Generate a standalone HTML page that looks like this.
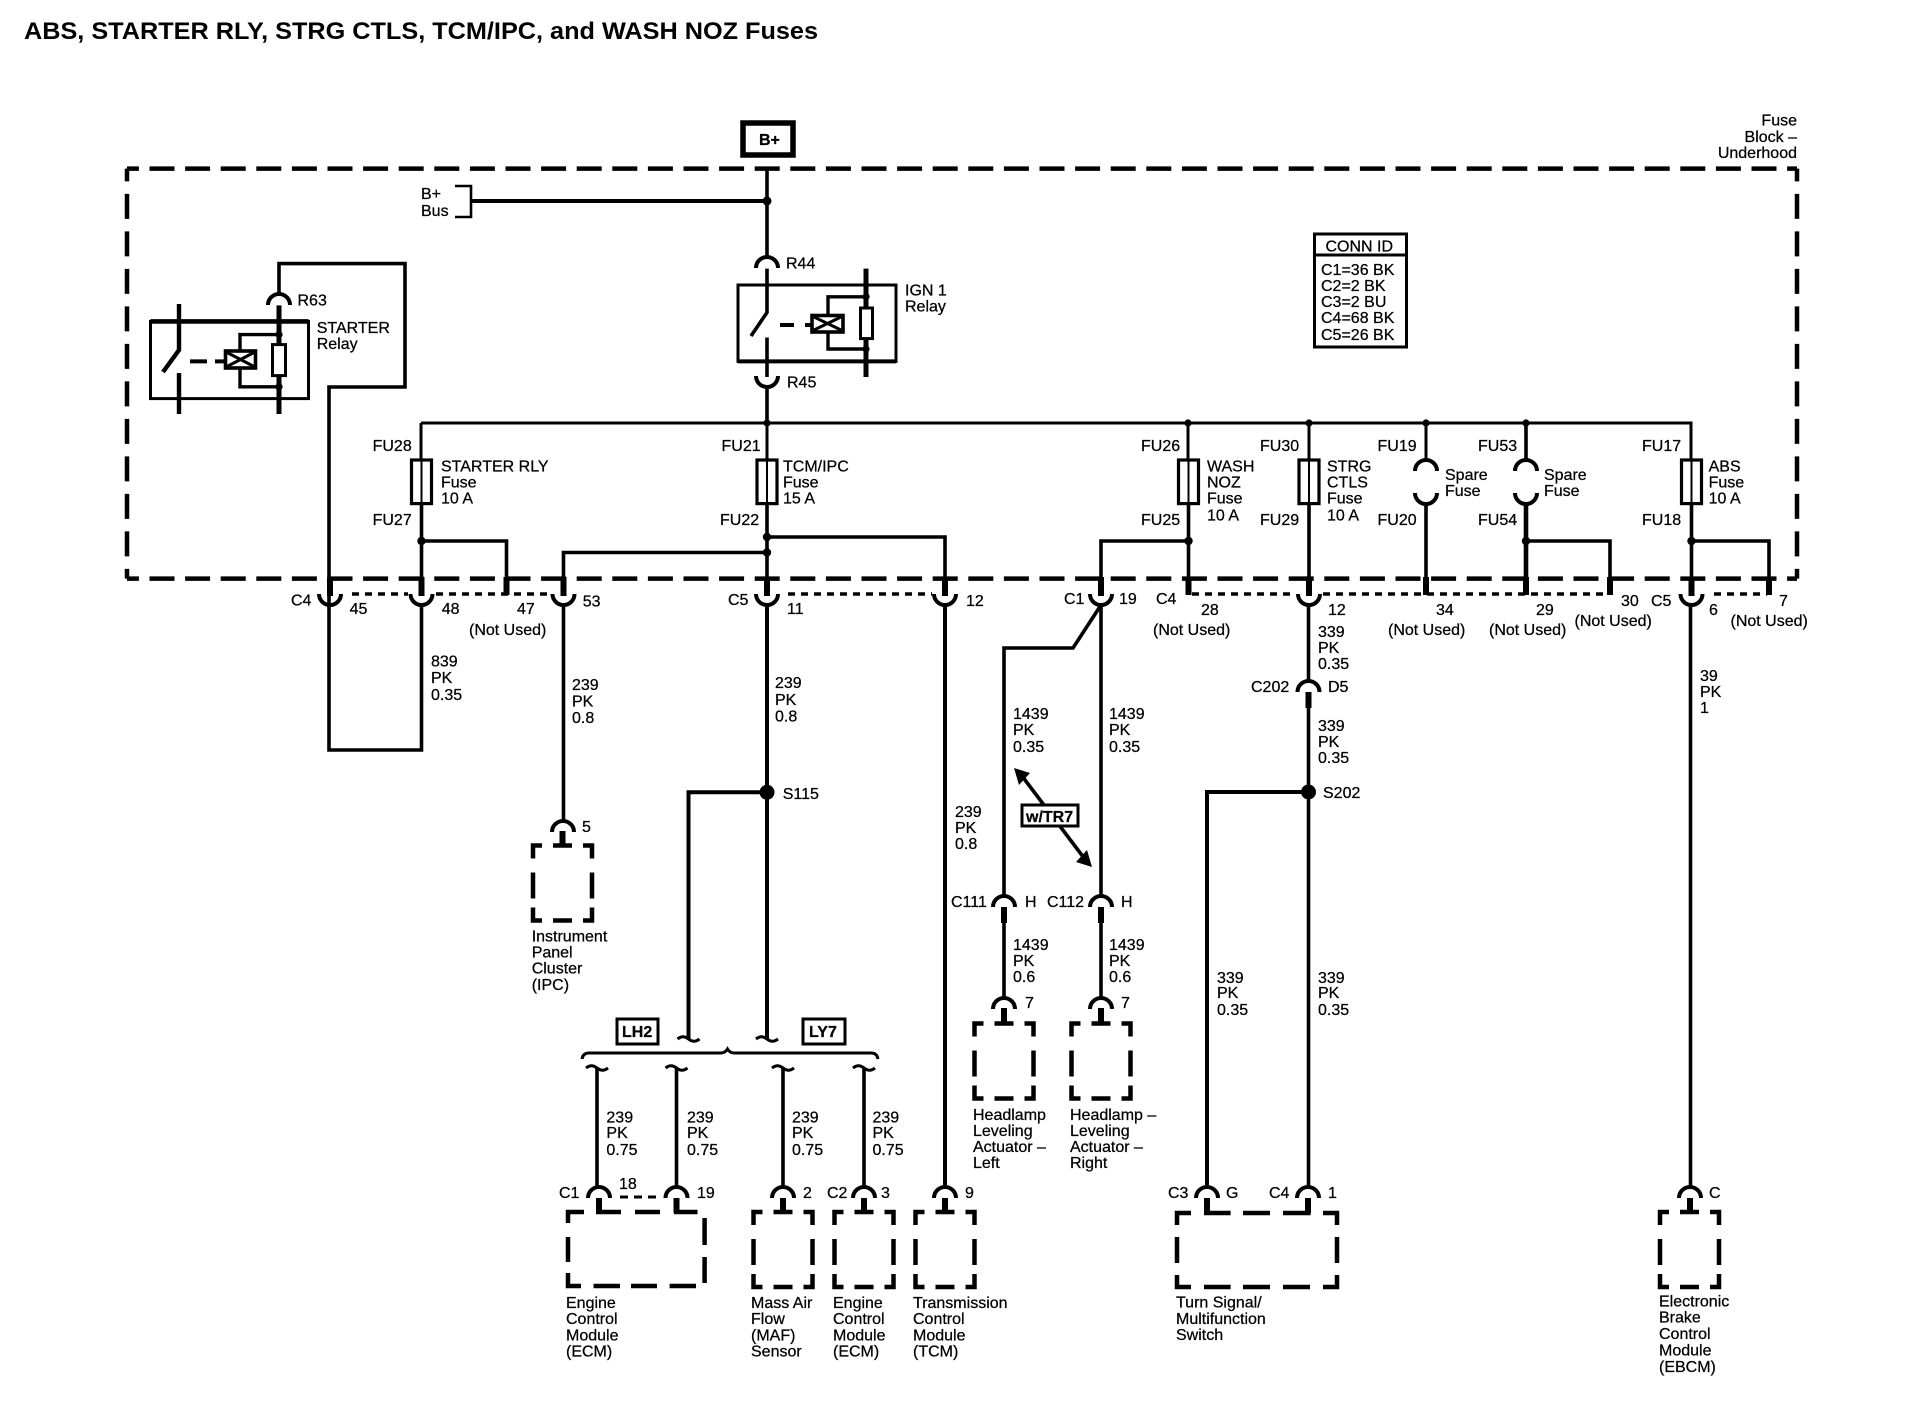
<!DOCTYPE html>
<html><head><meta charset="utf-8"><style>
html,body{margin:0;padding:0;background:#fff}
svg{display:block}
text{font-family:"Liberation Sans",sans-serif;font-size:16px;fill:#000;stroke:#000;stroke-width:.25}
.t{font-weight:bold;font-size:24px;stroke:none}
.b{font-weight:bold}
.w{fill:none;stroke:#000;stroke-width:3.6}
.n{fill:none;stroke:#000;stroke-width:3}
.s{fill:none;stroke:#000;stroke-width:6}
.d{fill:none;stroke:#000;stroke-width:4.5}
.r{fill:none;stroke:#000;stroke-width:3.5;stroke-dasharray:7 6}
</style></head><body>
<svg xmlns="http://www.w3.org/2000/svg" width="1918" height="1408" viewBox="0 0 1918 1408">
<defs>
<path id="cap" d="M-11 11A11 11 0 0 1 11 11" fill="none" stroke="#000" stroke-width="4"/>
<path id="cup" d="M-11 0A11 11 0 0 0 11 0" fill="none" stroke="#000" stroke-width="4"/>
<path id="box" d="M9 0H0V13M20 0H39M50 0H59V13M0 27V53M59 27V53M0 62V75H9M20 75H39M59 62V75H50" fill="none" stroke="#000" stroke-width="4.5"/>
<path id="sq" d="M-11 0c4-3 7-3 11 0c4 3 7 3 11 0" fill="none" stroke="#000" stroke-width="3"/>
<g id="fuse"><rect x="-10" y="0" width="20" height="43.6" fill="#fff" stroke="#000" stroke-width="3.2"/><line x1="0" y1="0" x2="0" y2="43.6" stroke="#000" stroke-width="2"/></g>
</defs>

<text class="t" x="24" y="39" textLength="794" lengthAdjust="spacingAndGlyphs">ABS, STARTER RLY, STRG CTLS, TCM/IPC, and WASH NOZ Fuses</text>

<!-- B+ -->
<rect x="743" y="123" width="50" height="32" fill="none" stroke="#000" stroke-width="5.5"/>
<text class="b" x="759" y="145">B+</text>

<!-- Fuse block outline -->
<path class="d" stroke-dasharray="25 10.6" stroke-dashoffset="13.1" d="M127 168.6H1797"/>
<path class="d" stroke-dasharray="25 10.6" stroke-dashoffset="13.1" d="M127 578.6H1797"/>
<path class="d" stroke-dasharray="25 12.5" stroke-dashoffset="12.2" d="M127 168.6V578.6"/>
<path class="d" stroke-dasharray="25 12.5" stroke-dashoffset="12.2" d="M1797 168.6V578.6"/>
<text x="1797" y="125.7" text-anchor="end">Fuse</text>
<text x="1797" y="141.8" text-anchor="end">Block –</text>
<text x="1797" y="158" text-anchor="end">Underhood</text>

<!-- Trunk and B+ Bus -->
<path class="w" d="M767 168V256"/>
<path class="w" style="stroke-width:4" d="M471 201H767"/>
<path fill="none" stroke="#000" stroke-width="2.6" d="M455 186H471V217H455"/>
<circle cx="767" cy="201" r="4.5"/>
<text x="421" y="199">B+</text><text x="421" y="216">Bus</text>

<!-- IGN 1 relay -->
<use href="#cap" x="767" y="257"/>
<text x="786" y="268.6">R44</text>
<rect x="738" y="285" width="158" height="76.4" class="n"/>
<path d="M738 361.4H896" class="w" style="stroke-width:4"/>
<path class="w" d="M767 268.6V312.5L751 336M767 337.5V377"/>
<path class="w" style="stroke-width:5" d="M866 268.6V308M866 338.6V377"/>
<rect x="860.5" y="308" width="12" height="30.6" class="n" fill="#fff"/>
<path class="n" style="stroke-width:3.4" d="M866 296.8H828V315M828 332V349H866"/>
<circle cx="866" cy="296.8" r="3.6"/><circle cx="866" cy="349" r="3.6"/>
<path class="n" style="stroke-width:4" d="M780 325H794M805 325H811"/>
<rect x="812" y="315.5" width="31" height="16.5" fill="#fff" stroke="#000" stroke-width="3.6"/>
<path d="M814 317L841 330M841 317L814 330" stroke="#000" stroke-width="3"/>
<text x="905" y="295.7">IGN 1</text><text x="905" y="311.4">Relay</text>
<use href="#cup" x="767" y="376"/>
<text x="787" y="387.5">R45</text>
<path class="w" d="M767 387V423"/>

<!-- STARTER relay -->
<path class="w" d="M279 293V263.6H405V387H329V750H421.5V605"/>
<use href="#cap" x="279" y="294"/>
<text x="297.5" y="305.7">R63</text>
<rect x="150.5" y="321.4" width="158" height="77.2" class="n"/>
<path d="M150.5 321.4H308.5" stroke="#000" stroke-width="4.6"/>
<path class="w" style="stroke-width:4.4" d="M179 304V350L163 372M179 373V414"/>
<path class="w" style="stroke-width:5" d="M279 305.4V344.6M279 375.7V414"/>
<rect x="272.5" y="344.6" width="13" height="31" class="n" fill="#fff"/>
<path class="n" style="stroke-width:3.4" d="M279 334.6H240V351M240 368V386.8H279"/>
<circle cx="279" cy="334.6" r="3.6"/><circle cx="279" cy="386.8" r="3.6"/>
<path class="n" style="stroke-width:4" d="M190 361.4H207M215 361.4H225"/>
<rect x="225.5" y="351" width="30" height="17" fill="#fff" stroke="#000" stroke-width="3.6"/>
<path d="M227 352.5L254 366.5M254 352.5L227 366.5" stroke="#000" stroke-width="3"/>
<text x="316.7" y="333">STARTER</text><text x="316.7" y="349">Relay</text>

<!-- Main bus -->
<path class="n" d="M421 423V460M421 423H1691V460"/>
<circle cx="767" cy="423" r="3.6"/><circle cx="1188" cy="423" r="3.6"/><circle cx="1309" cy="423" r="3.6"/><circle cx="1426" cy="423" r="3.6"/><circle cx="1526" cy="423" r="3.6"/>
<path class="n" d="M767 423V460M1188 423V460M1309 423V460M1426 423V460"/>
<path class="n" style="stroke-width:3.6" d="M1526 423V460"/>

<!-- fuses -->
<use href="#fuse" x="421.5" y="460"/><use href="#fuse" x="767" y="460"/><use href="#fuse" x="1188.5" y="460"/><use href="#fuse" x="1309" y="460"/><use href="#fuse" x="1691.5" y="460"/>
<use href="#cap" x="1426" y="460"/><use href="#cap" x="1526" y="460"/>
<use href="#cup" x="1426" y="493"/><use href="#cup" x="1526" y="493"/>

<!-- fuse labels -->
<text x="372.6" y="451">FU28</text><text x="372.6" y="525">FU27</text>
<text x="441" y="471.4">STARTER RLY</text><text x="441" y="487.5">Fuse</text><text x="441" y="503.6">10 A</text>
<text x="721.5" y="451">FU21</text><text x="720" y="525">FU22</text>
<text x="783" y="471.4">TCM/IPC</text><text x="783" y="487.5">Fuse</text><text x="783" y="503.6">15 A</text>
<text x="1141" y="451">FU26</text><text x="1141" y="525">FU25</text>
<text x="1207" y="471.4">WASH</text><text x="1207" y="487.5">NOZ</text><text x="1207" y="503.6">Fuse</text><text x="1207" y="520.7">10 A</text>
<text x="1260" y="451">FU30</text><text x="1260" y="525">FU29</text>
<text x="1327" y="471.4">STRG</text><text x="1327" y="487.5">CTLS</text><text x="1327" y="503.6">Fuse</text><text x="1327" y="520.7">10 A</text>
<text x="1377.5" y="451">FU19</text><text x="1377.5" y="525">FU20</text>
<text x="1445" y="480">Spare</text><text x="1445" y="496">Fuse</text>
<text x="1478" y="451">FU53</text><text x="1478" y="525">FU54</text>
<text x="1544" y="480">Spare</text><text x="1544" y="496">Fuse</text>
<text x="1642" y="451">FU17</text><text x="1642" y="525">FU18</text>
<text x="1708.6" y="471.4">ABS</text><text x="1708.6" y="487.5">Fuse</text><text x="1708.6" y="503.6">10 A</text>

<!-- Wires from fuses to the connector row -->
<path class="w" d="M421.5 503V580M421.5 541H506.5V580M767 503V580M767 537H945V580M767 552.5H563.5V580M1188.5 503V580M1188.5 541H1101V580M1309 503V580M1426 504V580M1526 541H1610V580M1691.5 503V580M1691.5 541H1769V580"/>
<path class="w" style="stroke-width:4.6" d="M1526 504V580"/>
<circle cx="421.5" cy="541" r="4.2"/><circle cx="767" cy="537" r="4.2"/><circle cx="767" cy="552.5" r="4.2"/><circle cx="1188.5" cy="541" r="4.2"/><circle cx="1526" cy="541" r="4.2"/><circle cx="1691.5" cy="541" r="4.2"/>

<!-- Thick stubs -->
<path class="s" d="M330 577V596M421.5 577V596M506.5 577V595M563.5 577V596M767 577V596M945 577V596M1101 577V596M1188.5 577V595M1309 577V596M1426 577V595M1526 577V595M1610 577V595M1691.5 577V596M1769 577V595"/>

<!-- Connector row dashes -->
<path class="r" d="M352 594H408M436 594H550M788 594H932M1192 594H1295M1323 594H1607M1714 594H1767"/>
<use href="#cup" x="330" y="594"/><use href="#cup" x="421.5" y="594"/><use href="#cup" x="563.5" y="594"/><use href="#cup" x="767" y="594"/><use href="#cup" x="945" y="594"/><use href="#cup" x="1101" y="594"/><use href="#cup" x="1309" y="594"/><use href="#cup" x="1691.5" y="594"/>

<!-- connector labels -->
<text x="291" y="605.4">C4</text><text x="349.6" y="614">45</text><text x="441.7" y="614">48</text><text x="517" y="614">47</text>
<text x="469" y="635">(Not Used)</text><text x="582.7" y="606.4">53</text>
<text x="728" y="605">C5</text><text x="787" y="614">11</text><text x="966" y="606">12</text>
<text x="1064" y="604">C1</text><text x="1119" y="604">19</text><text x="1156" y="604">C4</text>
<text x="1201" y="615">28</text><text x="1153" y="635">(Not Used)</text>
<text x="1328" y="615">12</text><text x="1436" y="615">34</text><text x="1388" y="635">(Not Used)</text>
<text x="1536" y="615">29</text><text x="1489" y="635">(Not Used)</text>
<text x="1621" y="606">30</text><text x="1574.5" y="626">(Not Used)</text>
<text x="1651" y="606">C5</text><text x="1709" y="615">6</text><text x="1779" y="606">7</text><text x="1730.5" y="626">(Not Used)</text>

<!-- CONN ID -->
<rect x="1314.5" y="234" width="92" height="113" fill="none" stroke="#000" stroke-width="3"/>
<line x1="1314.5" y1="255" x2="1406.5" y2="255" stroke="#000" stroke-width="3"/>
<text x="1325.5" y="251.4">CONN ID</text>
<text x="1321" y="275">C1=36 BK</text><text x="1321" y="291">C2=2 BK</text><text x="1321" y="307">C3=2 BU</text><text x="1321" y="323">C4=68 BK</text><text x="1321" y="340">C5=26 BK</text>

<!-- Left wires down -->
<text x="431" y="666.7">839</text><text x="431" y="683">PK</text><text x="431" y="700">0.35</text>
<path class="w" d="M563.5 605V821"/>
<text x="572" y="690">239</text><text x="572" y="706.7">PK</text><text x="572" y="723">0.8</text>
<use href="#cap" x="563" y="821"/>
<path class="s" d="M562.5 831V846"/>
<use href="#box" x="533" y="845.5"/>
<text x="582" y="832">5</text>
<text x="531.7" y="941.7">Instrument</text><text x="531.7" y="957.7">Panel</text><text x="531.7" y="973.7">Cluster</text><text x="531.7" y="990">(IPC)</text>

<!-- S115 -->
<path class="w" style="stroke-width:4" d="M767 605V1039M767 792.3H688.5V1039"/>
<circle cx="767" cy="792.3" r="7.5"/>
<text x="782.7" y="799">S115</text>
<text x="775" y="688">239</text><text x="775" y="705">PK</text><text x="775" y="721.7">0.8</text>

<!-- LH2 / LY7 -->
<rect x="617" y="1019" width="41" height="25" fill="none" stroke="#000" stroke-width="3"/><text class="b" x="622" y="1037">LH2</text>
<rect x="803" y="1019" width="42" height="25" fill="none" stroke="#000" stroke-width="3"/><text class="b" x="809" y="1037">LY7</text>
<use href="#sq" x="688.5" y="1039"/><use href="#sq" x="767" y="1039"/>
<path fill="none" stroke="#000" stroke-width="3" d="M582 1059Q583 1053 589 1053H721Q725 1053 727.5 1049Q730 1053 734 1053H871Q877 1053 878 1059"/>
<use href="#sq" x="597" y="1068"/><use href="#sq" x="676.5" y="1068"/><use href="#sq" x="783" y="1068"/><use href="#sq" x="864" y="1068"/>
<path class="w" d="M597 1068V1187M676.5 1068V1187M783 1068V1187M864 1068V1187"/>
<text x="606.4" y="1122.7">239</text><text x="606.4" y="1138">PK</text><text x="606.4" y="1155">0.75</text>
<text x="687" y="1122.7">239</text><text x="687" y="1138">PK</text><text x="687" y="1155">0.75</text>
<text x="792" y="1122.7">239</text><text x="792" y="1138">PK</text><text x="792" y="1155">0.75</text>
<text x="872.5" y="1122.7">239</text><text x="872.5" y="1138">PK</text><text x="872.5" y="1155">0.75</text>

<!-- Bottom caps -->
<use href="#cap" x="599" y="1187"/><use href="#cap" x="676.5" y="1187"/><use href="#cap" x="783" y="1187"/><use href="#cap" x="864" y="1187"/><use href="#cap" x="945" y="1187"/><use href="#cap" x="1207" y="1187"/><use href="#cap" x="1308" y="1187"/><use href="#cap" x="1690" y="1187"/>
<path class="s" d="M599 1198V1213M676.5 1198V1213M783 1198V1213M864 1198V1213M945 1198V1213M1207 1198V1213M1308 1198V1213M1690 1198V1213"/>
<path class="n" stroke-dasharray="8 6" d="M620 1197H657"/>
<text x="559" y="1198">C1</text><text x="619" y="1189">18</text><text x="697" y="1198">19</text><text x="803" y="1198">2</text><text x="827" y="1198">C2</text><text x="881" y="1198">3</text><text x="965" y="1198">9</text>

<!-- Module boxes -->
<path class="d" d="M584 1212H568V1223M568 1237V1262M568 1273V1286H581M593.5 1286H620M631 1286H657M669.6 1286H696M704.6 1218V1245M704.6 1257V1283M596 1212H621M635 1212H660M674 1212H697.5"/>
<use href="#box" x="753.5" y="1212"/><use href="#box" x="834.5" y="1212"/><use href="#box" x="915.5" y="1212"/><use href="#box" x="1660" y="1212"/>
<path class="d" d="M1191 1213H1177V1225M1177 1237V1263M1177 1275V1287H1191M1204 1287H1230.6M1243 1287H1270M1283 1287H1310M1323 1287H1337V1275M1337 1263V1237M1337 1225V1213H1323M1204 1213H1230.6M1243 1213H1270M1283 1213H1310.6"/>

<text x="566" y="1308">Engine</text><text x="566" y="1324">Control</text><text x="566" y="1340.7">Module</text><text x="566" y="1356.7">(ECM)</text>
<text x="751" y="1308">Mass Air</text><text x="751" y="1324">Flow</text><text x="751" y="1340.7">(MAF)</text><text x="751" y="1356.7">Sensor</text>
<text x="833" y="1308">Engine</text><text x="833" y="1324">Control</text><text x="833" y="1340.7">Module</text><text x="833" y="1356.7">(ECM)</text>
<text x="913" y="1308">Transmission</text><text x="913" y="1324">Control</text><text x="913" y="1340.7">Module</text><text x="913" y="1356.7">(TCM)</text>
<text x="1176" y="1307.7">Turn Signal/</text><text x="1176" y="1324">Multifunction</text><text x="1176" y="1340">Switch</text>
<text x="1659" y="1306.7">Electronic</text><text x="1659" y="1322.7">Brake</text><text x="1659" y="1339">Control</text><text x="1659" y="1355.7">Module</text><text x="1659" y="1372">(EBCM)</text>
<text x="1168" y="1198">C3</text><text x="1226" y="1198">G</text><text x="1269" y="1198">C4</text><text x="1328" y="1198">1</text><text x="1709" y="1198">C</text>

<!-- TCM wire -->
<path class="w" style="stroke-width:4" d="M945 605V1187"/>
<text x="955" y="817">239</text><text x="955" y="833">PK</text><text x="955" y="849">0.8</text>

<!-- C111 / C112 -->
<path class="w" d="M1101 605V896M1101 605L1073 648H1004V896M1004 923V998M1101 923V998"/>
<use href="#cap" x="1004" y="896"/><use href="#cap" x="1101" y="896"/>
<path class="s" d="M1004 907V923M1101 907V923"/>
<use href="#cap" x="1004" y="998"/><use href="#cap" x="1101" y="998"/>
<path class="s" d="M1004 1008V1024M1101 1008V1024"/>
<use href="#box" x="974.5" y="1023.5"/><use href="#box" x="1071.5" y="1023.5"/>
<text x="1013" y="719">1439</text><text x="1013" y="735">PK</text><text x="1013" y="752">0.35</text>
<text x="1109" y="719">1439</text><text x="1109" y="735">PK</text><text x="1109" y="752">0.35</text>
<text x="951" y="907">C111</text><text x="1025" y="907">H</text><text x="1047" y="907">C112</text><text x="1121" y="907">H</text>
<text x="1013" y="950">1439</text><text x="1013" y="966">PK</text><text x="1013" y="982">0.6</text>
<text x="1109" y="950">1439</text><text x="1109" y="966">PK</text><text x="1109" y="982">0.6</text>
<text x="1025" y="1008">7</text><text x="1121" y="1008">7</text>
<text x="973" y="1120">Headlamp</text><text x="973" y="1136">Leveling</text><text x="973" y="1152">Actuator –</text><text x="973" y="1168">Left</text>
<text x="1070" y="1120">Headlamp –</text><text x="1070" y="1136">Leveling</text><text x="1070" y="1152">Actuator –</text><text x="1070" y="1168">Right</text>

<!-- w/TR7 arrow -->
<line x1="1022" y1="776" x2="1084" y2="858" stroke="#000" stroke-width="3.6"/>
<path d="M1014 768L1030 773L1019 785Z M1092 867L1076 862L1087 850Z"/>
<rect x="1022" y="805" width="56" height="21" fill="#fff" stroke="#000" stroke-width="3"/>
<text class="b" x="1026" y="822">w/TR7</text>

<!-- STRG CTLS branch -->
<path class="w" d="M1308.5 605V681M1308.5 708V1187"/>
<use href="#cap" x="1308.5" y="681"/>
<path class="s" d="M1308.5 692V708"/>
<text x="1318" y="637">339</text><text x="1318" y="653">PK</text><text x="1318" y="669">0.35</text>
<text x="1251" y="692">C202</text><text x="1328" y="692">D5</text>
<text x="1318" y="731">339</text><text x="1318" y="747">PK</text><text x="1318" y="763">0.35</text>
<circle cx="1308.5" cy="792" r="7.5"/>
<path class="w" style="stroke-width:4" d="M1308.5 792H1207V1187"/>
<text x="1323" y="798">S202</text>
<text x="1217" y="983">339</text><text x="1217" y="998">PK</text><text x="1217" y="1015">0.35</text>
<text x="1318" y="983">339</text><text x="1318" y="998">PK</text><text x="1318" y="1015">0.35</text>

<!-- ABS wire -->
<path class="w" d="M1690.5 605V1187"/>
<text x="1700" y="681">39</text><text x="1700" y="697">PK</text><text x="1700" y="713">1</text>
</svg>
</body></html>
